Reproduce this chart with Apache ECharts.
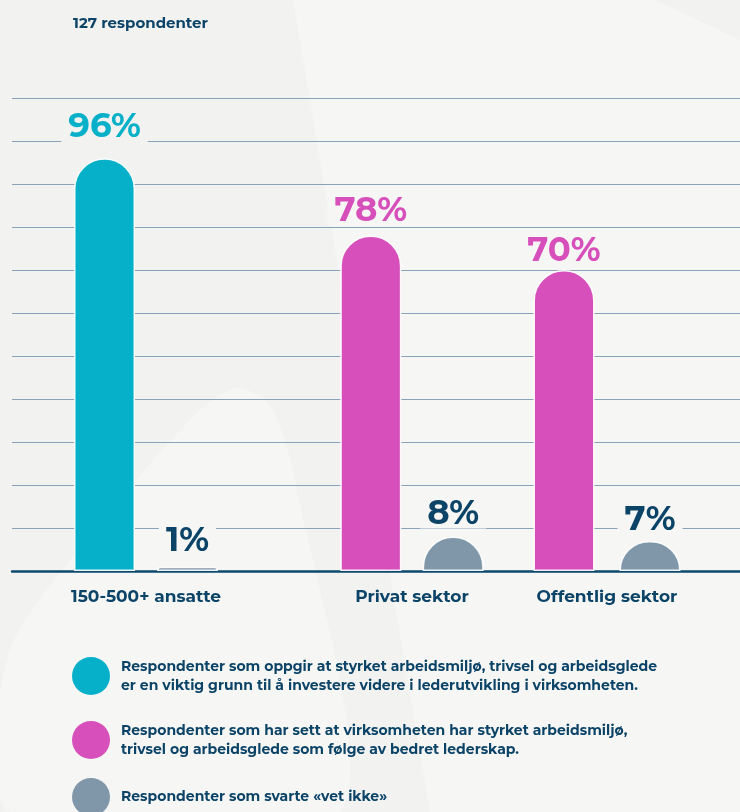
<!DOCTYPE html>
<html>
<head>
<meta charset="utf-8">
<script src="https://cdn.jsdelivr.net/npm/echarts@6/dist/echarts.min.js"></script>
<style>
  html, body { margin: 0; padding: 0; background: #f2f2f1; }
  #chart { width: 740px; height: 812px; }
</style>
</head>
<body>
<div id="chart"></div>
<script>
// Survey results per group (percent of respondents)
const categories = ['150-500+ ansatte', 'Privat sektor', 'Offentlig sektor'];
const mainValues = [96, 78, 70];      // coloured bar per group
const unknownValues = [1, 8, 7];       // "vet ikke" bar per group
const title = '127 respondenter';
const legendTexts = [
  'Respondenter som oppgir at styrket arbeidsmiljø, trivsel og arbeidsglede\ner en viktig grunn til å investere videre i lederutvikling i virksomheten.',
  'Respondenter som har sett at virksomheten har styrket arbeidsmiljø,\ntrivsel og arbeidsglede som følge av bedret lederskap.',
  'Respondenter som svarte «vet ikke»'
];
const yTicks = { min: 0, max: 110, interval: 10 };

const NAVY = '#0c4468';
const CYAN = '#06b0c8';
const MAGENTA = '#d64fba';
const GREY = '#7f97a8';
const BG = '#f2f2f1';
const BG_LIGHT = '#f6f6f5';
const FONT = 'Montserrat, Inter, "Noto Sans", sans-serif';

// layout of the three bar groups
const groupCenters = [146, 412, 607];
const groupGaps = ['36%', '35%', '41%'];
const mainColors = [CYAN, MAGENTA, MAGENTA];
const mainKeys = ['k0', 'k1', 'k1'];
const mainLabelDist = [16, 10, 4];
const unknownLabelDist = [11, 8, 6];
const mainLabelBg = [BG, BG_LIGHT, BG_LIGHT];
const plotTop = 98, plotBottom = 241;

const grids = [{ left: 12, right: 0, top: plotTop, bottom: plotBottom }];
const xAxes = [{
  gridIndex: 0, type: 'category', data: [''],
  axisLine: { lineStyle: { color: '#0d4a6e', width: 2.5 } },
  axisTick: { show: false }, axisLabel: { show: false }
}];
const yAxes = [{
  gridIndex: 0, type: 'value', min: yTicks.min, max: yTicks.max, interval: yTicks.interval,
  axisLabel: { show: false }, axisLine: { show: false }, axisTick: { show: false },
  splitLine: { lineStyle: { color: '#8aa3ba', width: 1 } }
}];
const series = [];

categories.forEach((cat, i) => {
  const gi = i + 1;
  grids.push({ left: groupCenters[i] - 100, width: 200, top: plotTop, bottom: plotBottom });
  xAxes.push({
    gridIndex: gi, type: 'category', data: [cat],
    axisLine: { show: false }, axisTick: { show: false },
    axisLabel: { margin: 17, color: NAVY, fontSize: 17, fontWeight: 'bold', fontFamily: FONT }
  });
  yAxes.push({
    gridIndex: gi, type: 'value', min: yTicks.min, max: yTicks.max, interval: yTicks.interval,
    show: false, splitLine: { show: false }
  });
  const labelBase = {
    show: true, position: 'top', formatter: '{c}%', fontWeight: 'bold', fontFamily: FONT,
    fontSize: 34, lineHeight: 30, padding: [0, 7]
  };
  const barStyle = { borderRadius: [31, 31, 0, 0], borderColor: 'rgba(255,255,255,0.9)', borderWidth: 1.5 };
  series.push({
    type: 'bar', name: mainKeys[i], xAxisIndex: gi, yAxisIndex: gi,
    data: [mainValues[i]], barWidth: 61, barGap: groupGaps[i],
    itemStyle: Object.assign({ color: mainColors[i] }, barStyle),
    label: Object.assign({}, labelBase, { color: mainColors[i], distance: mainLabelDist[i], backgroundColor: mainLabelBg[i] }),
    emphasis: { disabled: true }
  });
  series.push({
    type: 'bar', name: 'k2', xAxisIndex: gi, yAxisIndex: gi,
    data: [unknownValues[i]], barWidth: 61, barGap: groupGaps[i],
    itemStyle: Object.assign({ color: GREY }, barStyle),
    label: Object.assign({}, labelBase, { color: NAVY, distance: unknownLabelDist[i], backgroundColor: BG_LIGHT }),
    emphasis: { disabled: true }
  });
});

const legendTops = [657, 721, 778];
const legends = ['k0', 'k1', 'k2'].map((k, i) => ({
  data: [k], left: 72, top: legendTops[i], orient: 'vertical', padding: 0,
  icon: 'circle', itemWidth: 38, itemHeight: 38, selectedMode: false,
  itemStyle: { borderWidth: 0 },
  formatter: () => legendTexts[i],
  textStyle: { color: NAVY, fontSize: 14, fontWeight: 'bold', lineHeight: 19, fontFamily: FONT, padding: [0, 0, 0, 6] }
}));

const chart = echarts.init(document.getElementById('chart'), null, { renderer: 'canvas' });
chart.setOption({
  backgroundColor: BG,
  animation: false,
  title: {
    text: title, left: 68, top: 11,
    textStyle: { color: NAVY, fontSize: 15, fontWeight: 'bold', fontFamily: FONT }
  },
  graphic: [
    // soft background shapes
    { type: 'polygon', z: -10, silent: true,
      shape: { points: [[293, 0], [655, 0], [740, 40], [740, 812], [430, 812]] },
      style: { fill: BG_LIGHT } },
    { type: 'polygon', z: -10, silent: true,
      shape: { points: [[10, 812], [10, 650], [120, 500], [200, 410], [237, 388], [270, 405], [295, 480], [340, 812]], smooth: 0.25 },
      style: { fill: BG_LIGHT } }
  ],
  legend: legends,
  grid: grids,
  xAxis: xAxes,
  yAxis: yAxes,
  series: series
});
</script>
</body>
</html>
